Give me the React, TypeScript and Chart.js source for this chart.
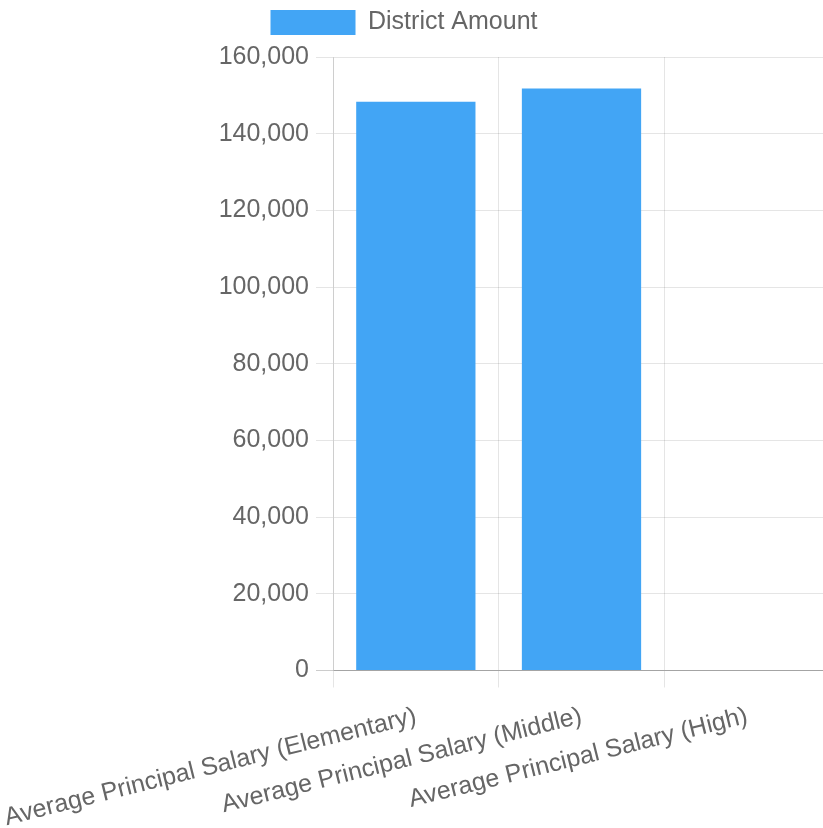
import React, { useEffect, useRef } from "react";
import { Chart, registerables } from "chart.js";

Chart.register(...registerables);

const categories: string[] = [
  "Average Principal Salary (Elementary)",
  "Average Principal Salary (Middle)",
  "Average Principal Salary (High)",
];
const seriesLabel = "District Amount";
const districtAmount: (number | null)[] = [148300, 151800, null];
const yTicks: number[] = [0, 20000, 40000, 60000, 80000, 100000, 120000, 140000, 160000];

const FONT = "'Liberation Sans', Arial, Helvetica, sans-serif";
const TEXT = "#666";
const GRID = "rgba(0,0,0,0.1)";
const ZERO_LINE = "rgba(0,0,0,0.2)";
const LEGEND_GAP = 12;

// Adds extra room between the legend row and the plot area.
const legendGap = {
  id: "legendGap",
  beforeUpdate(chart: any) {
    const legend = chart.legend;
    if (!legend || legend.__gap) return;
    const fit = legend.fit.bind(legend);
    legend.fit = () => {
      fit();
      legend.height += LEGEND_GAP;
    };
    legend.__gap = true;
  },
};

export default function App() {
  const ref = useRef<HTMLCanvasElement | null>(null);

  useEffect(() => {
    if (!ref.current) return;
    const chart = new Chart(ref.current, {
      type: "bar",
      data: {
        labels: categories,
        datasets: [
          {
            label: seriesLabel,
            data: districtAmount,
            backgroundColor: "#42A5F5",
            borderWidth: 0,
          },
        ],
      },
      plugins: [legendGap],
      options: {
        responsive: false,
        animation: false,
        layout: { padding: 0 },
        plugins: {
          tooltip: { enabled: false },
          legend: {
            position: "top",
            labels: {
              color: TEXT,
              font: { family: FONT, size: 25 },
              boxWidth: 85,
              boxHeight: 25,
              padding: 21,
            },
          },
        },
        scales: {
          x: {
            afterFit: (axis: any) => {
              // rotated labels may run past the plot's left edge
              axis.paddingLeft = 0;
            },
            grid: { color: GRID, tickLength: 17, offset: true },
            border: { color: ZERO_LINE },
            ticks: {
              color: TEXT,
              font: { family: FONT, size: 25 },
              minRotation: 14,
              maxRotation: 14,
              autoSkip: false,
              padding: 14,
            },
          },
          y: {
            min: yTicks[0],
            max: yTicks[yTicks.length - 1],
            afterFit: (axis: any) => {
              axis.width = 355;
            },
            afterBuildTicks: (axis: any) => {
              axis.ticks = yTicks.map((v) => ({ value: v }));
            },
            grid: {
              color: (ctx: any) => (ctx.tick && ctx.tick.value === 0 ? ZERO_LINE : GRID),
              tickLength: 17,
            },
            border: { color: GRID },
            ticks: {
              color: TEXT,
              font: { family: FONT, size: 25 },
              padding: 7,
            },
          },
        },
      },
    });
    return () => chart.destroy();
  }, []);

  return (
    <div
      style={{
        position: "fixed",
        left: 0,
        top: 0,
        width: 823,
        height: 828,
        overflow: "hidden",
        background: "#fff",
      }}
    >
      <canvas
        ref={ref}
        width={852}
        height={858}
        style={{ position: "absolute", left: -22, top: -11, width: 852, height: 858 }}
      />
    </div>
  );
}
